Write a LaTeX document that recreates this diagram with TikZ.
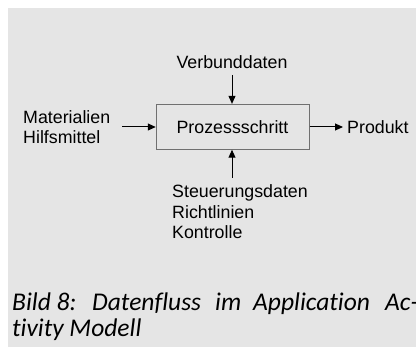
\documentclass[tikz,border=0pt]{standalone}
\usepackage{fontspec}
\setmainfont{Liberation Sans}
\newfontfamily\capfont[Ligatures=NoCommon]{Carlito}
\usetikzlibrary{arrows.meta}
\definecolor{bg}{HTML}{E5E5E5}
\definecolor{boxline}{HTML}{707070}
\tikzset{
  lbl/.style={inner sep=0pt, font=\fontsize{17.8}{20.5}\selectfont},
  captext/.style={inner sep=0pt, anchor=base west, font=\capfont\itshape\fontsize{25.5}{27}\selectfont},
  arr/.style={draw=black, line width=1pt, -{Triangle[length=8pt,width=7pt]}},
  procbox/.style={draw=boxline, line width=0.9pt, fill=none, minimum width=153pt, minimum height=45pt, inner sep=0pt}
}
\begin{document}
\begin{tikzpicture}[x=1pt,y=-1pt]
\useasboundingbox (0,0) rectangle (416,347);
\fill[white] (0,0) rectangle (416,347);
\fill[bg] (8,8) rectangle (416,347);
\node[procbox] (p) at (232.7,126.8) {};
\node[lbl] (pt) at (232.5,127) {Prozessschritt};
\node[lbl] (v) at (232,62) {Verbunddaten};
\node[lbl, anchor=west, align=left] (m) at (23,127) {Materialien\\Hilfsmittel};
\node[lbl, anchor=west] (prod) at (347,127) {Produkt};
\node[lbl, anchor=north west, align=left] (s) at (172,184.5) {Steuerungsdaten\\Richtlinien\\Kontrolle};
\coordinate (vt) at (232,75);
\coordinate (sb) at (232,178);
\coordinate (ml) at (122,127);
\coordinate (pr) at (343,127);
\draw[arr] (vt) -- (vt |- p.north);
\draw[arr] (sb) -- (sb |- p.south);
\draw[arr] (ml) -- (p.west |- ml);
\draw[arr] (p.east |- pr) -- (pr);
\node[captext] (c1) at (12,310.5) {Bild 8:};
\node[captext] (c2) at (92,310.5) {Datenfluss};
\node[captext] (c3) at (215,310.5) {im};
\node[captext] (c4) at (253,310.5) {Application};
\node[captext] (c5) at (385,310.5) {Ac-};
\node[captext] (c6) at (12,337) {tivity Modell};
\end{tikzpicture}
\end{document}
